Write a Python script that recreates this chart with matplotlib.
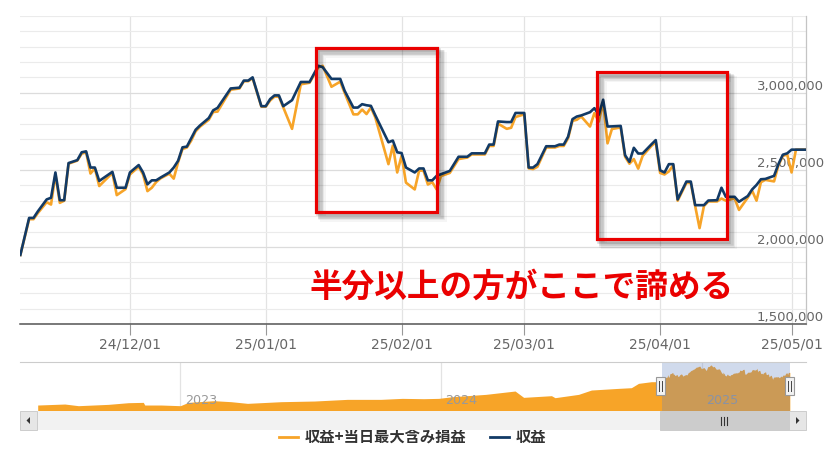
import pandas as pd
import matplotlib
matplotlib.use("Agg")
import matplotlib.pyplot as plt
import matplotlib.dates as mdates
from matplotlib.ticker import MultipleLocator, FixedLocator, FuncFormatter
from matplotlib.patches import Rectangle, Polygon
from matplotlib.lines import Line2D
from matplotlib.font_manager import FontProperties

plt.rcParams['font.family'] = ['DejaVu Sans', 'Noto Sans CJK JP']

# --- main series (values in thousand yen) ---
dates = [
    '2024-11-06', '2024-11-08', '2024-11-09', '2024-11-10', '2024-11-12', '2024-11-13',
    '2024-11-14', '2024-11-15', '2024-11-16', '2024-11-17', '2024-11-19', '2024-11-20',
    '2024-11-21', '2024-11-22', '2024-11-23', '2024-11-24', '2024-11-27', '2024-11-28',
    '2024-11-30', '2024-12-01', '2024-12-03', '2024-12-04', '2024-12-05', '2024-12-06',
    '2024-12-07', '2024-12-08', '2024-12-10', '2024-12-11', '2024-12-12', '2024-12-13',
    '2024-12-14', '2024-12-15', '2024-12-16', '2024-12-17', '2024-12-19', '2024-12-20',
    '2024-12-21', '2024-12-24', '2024-12-26', '2024-12-27', '2024-12-28', '2024-12-29',
    '2024-12-31', '2025-01-01', '2025-01-02', '2025-01-03', '2025-01-04', '2025-01-05',
    '2025-01-07', '2025-01-09', '2025-01-11', '2025-01-13', '2025-01-14', '2025-01-16',
    '2025-01-18', '2025-01-19', '2025-01-21', '2025-01-22', '2025-01-23', '2025-01-24',
    '2025-01-25', '2025-01-26', '2025-01-29', '2025-01-30', '2025-01-31', '2025-02-01',
    '2025-02-02', '2025-02-04', '2025-02-05', '2025-02-06', '2025-02-07', '2025-02-08',
    '2025-02-09', '2025-02-10', '2025-02-12', '2025-02-14', '2025-02-16', '2025-02-17',
    '2025-02-20', '2025-02-21', '2025-02-22', '2025-02-23', '2025-02-25', '2025-02-26',
    '2025-02-27', '2025-03-01', '2025-03-02', '2025-03-03', '2025-03-04', '2025-03-06',
    '2025-03-08', '2025-03-09', '2025-03-10', '2025-03-11', '2025-03-12', '2025-03-13',
    '2025-03-14', '2025-03-16', '2025-03-17', '2025-03-18', '2025-03-19', '2025-03-20',
    '2025-03-21', '2025-03-23', '2025-03-24', '2025-03-25', '2025-03-26', '2025-03-27',
    '2025-03-28', '2025-03-30', '2025-03-31', '2025-04-01', '2025-04-02', '2025-04-03',
    '2025-04-04', '2025-04-05', '2025-04-07', '2025-04-08', '2025-04-09', '2025-04-10',
    '2025-04-11', '2025-04-12', '2025-04-14', '2025-04-15', '2025-04-16', '2025-04-18',
    '2025-04-19', '2025-04-21', '2025-04-22', '2025-04-23', '2025-04-24', '2025-04-25',
    '2025-04-27', '2025-04-28', '2025-04-29', '2025-04-30', '2025-05-01', '2025-05-02',
    '2025-05-04',
]
# 収益
profit = [
    1948, 2188, 2188, 2231, 2308, 2319, 2483, 2303, 2303, 2544, 2563, 2614,
    2620, 2515, 2515, 2428, 2487, 2384, 2384, 2483, 2531, 2483, 2406, 2432,
    2432, 2450, 2483, 2515, 2559, 2646, 2651, 2705, 2760, 2788, 2836, 2886,
    2902, 3028, 3033, 3079, 3079, 3100, 2913, 2913, 2959, 2983, 2983, 2913,
    2952, 3070, 3070, 3175, 3166, 3090, 3090, 3013, 2904, 2904, 2926, 2919,
    2915, 2854, 2679, 2690, 2614, 2609, 2515, 2483, 2509, 2509, 2432, 2432,
    2461, 2472, 2493, 2585, 2585, 2607, 2607, 2664, 2664, 2814, 2810, 2810,
    2869, 2869, 2515, 2515, 2537, 2653, 2653, 2664, 2664, 2715, 2829, 2846,
    2853, 2874, 2900, 2857, 2955, 2781, 2782, 2785, 2595, 2552, 2643, 2606,
    2606, 2665, 2693, 2497, 2483, 2537, 2537, 2308, 2424, 2424, 2271, 2271,
    2271, 2301, 2303, 2384, 2325, 2325, 2293, 2330, 2373, 2402, 2439, 2441,
    2461, 2537, 2598, 2607, 2631, 2631, 2631,
]
# 収益+当日最大含み損益
profit_dd = [
    1948, 2180, 2180, 2220, 2290, 2275, 2470, 2286, 2300, 2540, 2560, 2605,
    2615, 2476, 2510, 2395, 2480, 2336, 2375, 2470, 2520, 2470, 2362, 2384,
    2421, 2445, 2475, 2443, 2550, 2635, 2645, 2690, 2750, 2780, 2825, 2875,
    2878, 3020, 3028, 3075, 3075, 3095, 2910, 2910, 2950, 2975, 2975, 2905,
    2766, 3055, 3065, 3165, 3175, 3039, 3072, 3000, 2860, 2860, 2891, 2862,
    2905, 2840, 2537, 2657, 2483, 2592, 2417, 2373, 2495, 2495, 2405, 2420,
    2373, 2460, 2480, 2570, 2580, 2600, 2600, 2655, 2655, 2800, 2766, 2773,
    2843, 2860, 2510, 2505, 2520, 2645, 2645, 2655, 2655, 2705, 2818, 2825,
    2846, 2781, 2868, 2813, 2940, 2672, 2765, 2775, 2585, 2540, 2570, 2508,
    2590, 2655, 2680, 2480, 2470, 2490, 2530, 2300, 2415, 2415, 2265, 2122,
    2265, 2295, 2295, 2314, 2300, 2315, 2240, 2320, 2365, 2300, 2420, 2435,
    2425, 2530, 2590, 2600, 2483, 2631, 2631,
]

# --- navigator history before the visible range (thousand yen) ---
nav_dates = [
    '2022-06-15', '2022-07-23', '2022-08-11', '2022-09-22', '2022-10-20', '2022-11-10',
    '2022-11-12', '2022-12-05', '2023-01-01', '2023-01-12', '2023-02-17', '2023-03-13',
    '2023-04-05', '2023-05-22', '2023-07-08', '2023-08-23', '2023-10-09', '2023-11-08',
    '2023-12-08', '2023-12-29', '2024-01-17', '2024-03-04', '2024-04-14', '2024-04-26',
    '2024-06-04', '2024-06-09', '2024-07-12', '2024-07-30', '2024-09-06', '2024-09-24',
    '2024-10-04', '2024-10-22', '2024-11-01',
]
nav_values = [
    234, 307, 185, 282, 405, 429, 234, 234, 185, 429, 552, 479,
    356, 479, 528, 650, 650, 723, 699, 723, 846, 1017, 1263, 797,
    920, 773, 1017, 1336, 1458, 1508, 1826, 1948, 1948,
]
nav_years = [2023, 2024, 2025]
y_labels = [1500000, 2000000, 2500000, 3000000]

series_names = ['収益+当日最大含み損益', '収益']
note = '半分以上の方がここで諦める'

ORANGE = '#f7a428'
NAVY = '#123a66'
RED = '#ea0000'

W, H = 834, 455
fig = plt.figure(figsize=(W / 100, H / 100), dpi=100)

x = pd.to_datetime(dates)
x_start = pd.Timestamp('2024-11-05 22:00')
x_end = pd.Timestamp('2025-05-04 07:00')

# --- main chart ---
ax = fig.add_axes([20 / W, 1 - 324 / H, 786 / W, (324 - 15.7) / H])
ax.plot(x, [v * 1000 for v in profit_dd], color=ORANGE, lw=1.9,
        solid_joinstyle='round', zorder=3)
ax.plot(x, [v * 1000 for v in profit], color=NAVY, lw=1.9,
        solid_joinstyle='round', zorder=4)
ax.set_xlim(x_start, x_end)
ax.set_ylim(1500000, 3500000)

ax.xaxis.set_major_locator(mdates.MonthLocator())
ax.xaxis.set_major_formatter(mdates.DateFormatter('%y/%m/%d'))
ax.yaxis.set_major_locator(FixedLocator(y_labels))
ax.yaxis.set_minor_locator(MultipleLocator(100000))
ax.yaxis.set_major_formatter(FuncFormatter(lambda v, p: f'{int(v):,}'))

ax.grid(which='minor', axis='y', color='#ebebeb', lw=0.8)
ax.grid(which='major', axis='y', color='#dcdcdc', lw=0.9)
ax.grid(which='major', axis='x', color='#e3e3e3', lw=0.9)
ax.set_axisbelow(True)

ax.tick_params(axis='x', length=8, width=0.8, color='#999999',
               labelsize=10, labelcolor='#666666', pad=1.5)
ax.tick_params(axis='y', which='both', length=0, left=False, right=False,
               labelleft=False, labelright=True, labelsize=9.5,
               labelcolor='#666666', pad=-35.3)
for lab in ax.get_yticklabels():
    lab.set_va('bottom')

for side in ['top', 'left']:
    ax.spines[side].set_visible(False)
ax.spines['bottom'].set_color('#555555')
ax.spines['bottom'].set_linewidth(1.1)
ax.spines['right'].set_color('#c4c4c4')
ax.spines['right'].set_linewidth(0.9)

# --- navigator ---
nav = fig.add_axes([37.7 / W, 1 - 410.7 / H, 752.3 / W, 49 / H])
nav_x = list(pd.to_datetime(nav_dates)) + list(x)
nav_y = [v * 1000 for v in nav_values] + [v * 1000 for v in profit_dd]
nav_floor = -183000
nav.fill_between(nav_x, nav_y, nav_floor, color=ORANGE, lw=0, zorder=1)
nav.set_xlim(pd.Timestamp(nav_dates[0]), x_end)
nav.set_ylim(nav_floor, 3418000)
nav.axis('off')
for yr in nav_years:
    t = pd.Timestamp(f'{yr}-01-01')
    nav.axvline(t, color='#e3e3e3', lw=0.9, zorder=0)
    nav.annotate(str(yr), xy=(t, 0.2), xycoords=('data', 'axes fraction'),
                 xytext=(3.2, 0), textcoords='offset points', ha='left',
                 va='center', color='#999999', fontsize=9.2, zorder=2)
nav.axvspan(x_start, x_end, color=(102 / 255, 133 / 255, 194 / 255, 0.3),
            lw=0, zorder=3)

# --- overlay in pixel coordinates: boxes, note, scrollbar ---
ov = fig.add_axes([0, 0, 1, 1], zorder=10)
ov.set_xlim(0, W)
ov.set_ylim(H, 0)
ov.axis('off')
ov.patch.set_alpha(0)

boxes = [(316, 47.5, 121, 164), (597, 72, 130, 167)]
for bx, by, bw, bh in boxes:
    for d, a, lw in [(2.5, 0.16, 3.5), (4, 0.12, 4.5), (5.5, 0.07, 5.5), (7, 0.04, 6)]:
        ov.add_patch(Rectangle((bx + d, by + d), bw, bh, fill=False,
                               ec='black', alpha=a, lw=lw * 0.72))
    ov.add_patch(Rectangle((bx, by), bw, bh, fill=False, ec=RED, lw=2.3))

ov.text(309, 287, note, color=RED, fontsize=23.5, fontweight='bold',
        family=['Noto Sans CJK JP', 'DejaVu Sans'], ha='left', va='center')

# navigator outline
ov.plot([20, 806], [361.7, 361.7], color='#cccccc', lw=0.8)

# scrollbar
ov.add_patch(Rectangle((37, 411), 752, 19, fc='#f2f2f2', ec='none'))
ov.add_patch(Rectangle((660, 411), 129, 19, fc='#cccccc', ec='#cccccc', lw=0.7))
for rx in [721.5, 724.5, 727.5]:
    ov.plot([rx, rx], [416.5, 424.5], color='#333333', lw=0.8)
for bx, direction in [(20, -1), (789, 1)]:
    ov.add_patch(Rectangle((bx, 411), 17, 19, fc='#e6e6e6', ec='#cccccc', lw=0.7))
    cx, cy = bx + 8.5, 420.5
    ov.add_patch(Polygon([(cx + 2 * direction, cy), (cx - 1.5 * direction, cy - 3.5),
                          (cx - 1.5 * direction, cy + 3.5)], closed=True,
                         fc='#333333', ec='none'))

# navigator handles
for hx in [661, 790]:
    ov.add_patch(Rectangle((hx - 4.5, 377), 9, 18, fc='#f2f2f2', ec='#999999', lw=0.8))
    for dx in [-1.5, 1.5]:
        ov.plot([hx + dx, hx + dx], [381, 391], color='#444444', lw=0.7)

# legend
handles = [Line2D([], [], color=ORANGE, lw=2.0), Line2D([], [], color=NAVY, lw=2.0)]
fig.legend(handles, series_names, loc='center',
           bbox_to_anchor=(412.5 / W, 1 - 437 / H), ncol=2, frameon=False,
           prop=FontProperties(family=['Noto Sans CJK JP', 'DejaVu Sans'],
                               weight='bold', size=11),
           labelcolor='#333333', handlelength=1.25, handletextpad=0.4,
           columnspacing=1.6, borderaxespad=0)

fig.savefig('out.png', dpi=100)
